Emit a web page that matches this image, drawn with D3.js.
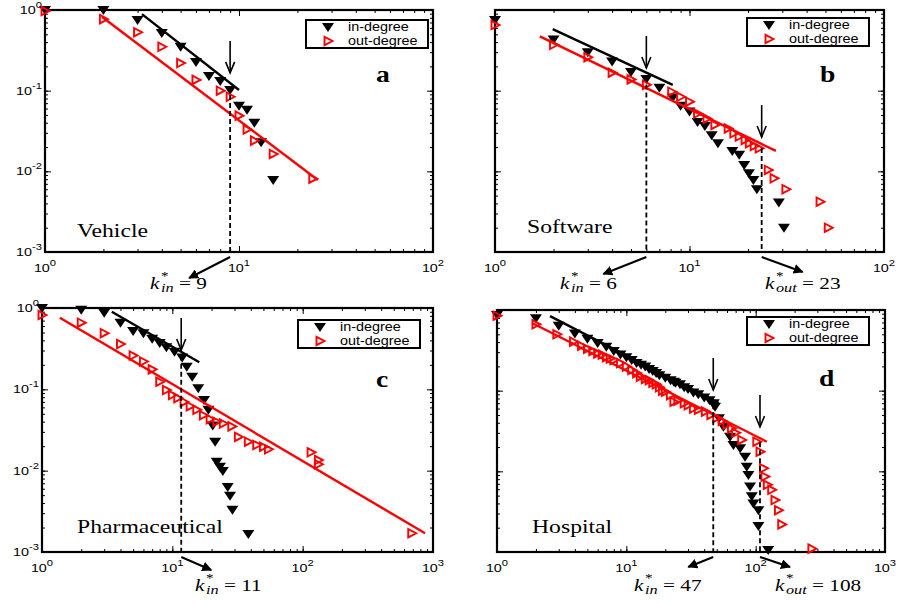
<!DOCTYPE html>
<html>
<head>
<meta charset="utf-8">
<script src="https://cdn.jsdelivr.net/npm/d3@7"></script>
<style>
  body { margin: 0; background: #fff; }
</style>
</head>
<body>
<svg id="chart" width="897" height="605"></svg>
<script>
// degree distributions: [k, P(k)]
const vehicleIn = [[1,1.0],[2,1.0],[3,0.75],[4,0.52],[5,0.35],[6,0.227],[7,0.152],[8,0.132],[9,0.102],[10,0.065],[11,0.058],[12,0.040],[13,0.023],[15,0.0078]];
const vehicleOut = [[1,0.97],[2,0.77],[3,0.53],[4,0.35],[5,0.22],[6,0.136],[8,0.1],[9,0.084],[10,0.049],[11,0.033],[12,0.024],[15,0.0164],[24,0.0081]];
const vehicleInFit = [[3.16,0.89],[10,0.102]];
const vehicleOutFit = [[1.97,0.82],[25.5,0.0078]];

const softwareIn = [[1,0.75],[2,0.43],[3,0.30],[4,0.23],[5,0.17],[6,0.14],[7,0.109],[8.2,0.082],[9,0.065],[10,0.055],[11,0.041],[12,0.0365],[13,0.028],[14,0.0223],[16.6,0.0179],[18,0.016],[19.1,0.012],[20.2,0.0095],[21.3,0.0078],[22.2,0.006],[28.8,0.0041],[30.6,0.002]];
const softwareOut = [[1,0.65],[2,0.37],[3,0.26],[4,0.167],[5,0.138],[6,0.118],[8.1,0.097],[9,0.084],[10,0.073],[11,0.052],[12.3,0.045],[13.5,0.0376],[15.8,0.034],[16.9,0.0296],[18,0.027],[19.3,0.0245],[20.3,0.0223],[21.5,0.0206],[22.8,0.0193],[25.4,0.0104],[27.2,0.0082],[31.3,0.006],[46.9,0.0042],[51.7,0.002]];
const softwareInFit = [[1.98,0.58],[8.2,0.118]];
const softwareOutFit = [[1.7,0.47],[27.8,0.0179]];

const pharmaIn = [[1,1],[2,0.95],[3,0.875],[4,0.66],[5,0.52],[6,0.49],[7,0.42],[8,0.37],[9,0.33],[10.4,0.29],[11.9,0.247],[12.9,0.19],[14.2,0.143],[15.8,0.103],[17.5,0.074],[18.9,0.056],[20.4,0.036],[21.3,0.0227],[21.9,0.0129],[23.2,0.0112],[24.4,0.0099],[26.6,0.0063],[27.7,0.0049],[28.9,0.0033],[38.3,0.00166]];
const pharmaOut = [[1,0.82],[2,0.66],[3,0.49],[4,0.36],[5,0.26],[6,0.22],[7,0.176],[8,0.124],[9,0.098],[10,0.085],[11,0.078],[12.3,0.07],[13.7,0.062],[15.4,0.056],[17.3,0.048],[19.5,0.043],[21.9,0.04],[24.6,0.038],[28.6,0.035],[32.1,0.026],[38.3,0.0227],[44.4,0.0207],[50,0.0197],[54.6,0.0183],[116,0.0168],[132,0.0135],[132,0.012],[687,0.0017]];
const pharmaInFit = [[3.43,0.9],[16.1,0.215]];
const pharmaOutFit = [[1.37,0.76],[869,0.0017]];

const hospitalIn = [[1,0.87],[2,0.79],[3,0.64],[4,0.51],[5,0.44],[6,0.39],[7,0.35],[8,0.31],[9,0.28],[10,0.26],[11,0.24],[12,0.22],[13,0.21],[14,0.2],[15,0.185],[16,0.175],[17,0.165],[18,0.155],[20,0.145],[22,0.135],[23.3,0.129],[24,0.125],[26,0.12],[28,0.11],[30,0.105],[33,0.095],[36,0.09],[40,0.082],[44,0.076],[47.4,0.07],[48.5,0.063],[52,0.0455],[56.3,0.0358],[63.4,0.0269],[67.3,0.0212],[75.8,0.0193],[82.8,0.0152],[85.3,0.0114],[87.9,0.009],[90.5,0.0065],[93.3,0.0049],[96,0.004],[105,0.0033],[105,0.0021],[125,0.00106]];
const hospitalOut = [[1,0.85],[2,0.665],[2.9,0.5],[3.9,0.405],[4.5,0.36],[5,0.33],[5.5,0.31],[6,0.29],[6.5,0.28],[7,0.26],[7.5,0.25],[8,0.24],[9,0.22],[10,0.2],[11,0.18],[12,0.165],[12.8,0.149],[14,0.14],[15,0.135],[16,0.125],[17,0.12],[18,0.11],[19,0.1],[20,0.097],[21.9,0.088],[23.3,0.073],[25,0.075],[28,0.07],[30,0.066],[33,0.06],[36,0.058],[40.8,0.055],[45,0.05],[50,0.046],[55,0.042],[60,0.038],[65,0.034],[70,0.03],[78,0.0245],[102,0.0233],[108,0.0175],[115,0.0109],[118,0.0086],[123,0.0068],[133,0.0059],[141,0.0044],[150,0.0033],[159,0.0022],[272,0.0011]];
const hospitalInFit = [[2.57,0.84],[51.8,0.07]];
const hospitalOutFit = [[1.9,0.68],[122,0.0233]];

// crossover points k*: position, label text, which degree, arrow tip P
const vehicleCuts = [{k:9, text:"9", sub:"in", tip:0.166}];
const softwareCuts = [{k:6, text:"6", sub:"in", tip:0.191}, {k:23.5, text:"23", sub:"out", tip:0.0266}];
const pharmaCuts = [{k:11.7, text:"11", sub:"in", tip:0.304}];
const hospitalCuts = [{k:47, text:"47", sub:"in", tip:0.102}, {k:108, text:"108", sub:"out", tip:0.0355}];

const legendLabels = ["in-degree", "out-degree"];

const SX = 1.25; // the figure's text is stretched sideways
const svg = d3.select("#chart");

const triDown = "M-6,-4L6,-4L0,5Z";
const triRight = "M-3.5,-4.2L4.5,0L-3.5,4.2Z";

const panels = [
  {box:[45,10,433,252], xMax:100, yLabels:true, name:"Vehicle", letter:"a",
   inPts:vehicleIn, outPts:vehicleOut, inFit:vehicleInFit, outFit:vehicleOutFit, cuts:vehicleCuts,
   legend:[306,20], nameXY:[77,237], letterXY:[376,82],
   kLabels:[[150,289]], arrows:[[-41,21]]},
  {box:[495,10,884,252], xMax:100, yLabels:false, name:"Software", letter:"b",
   inPts:softwareIn, outPts:softwareOut, inFit:softwareInFit, outFit:softwareOutFit, cuts:softwareCuts,
   legend:[747,18], nameXY:[527,233], letterXY:[820,82],
   kLabels:[[560,289],[765,289]], arrows:[[-43,17],[41,15]]},
  {box:[42,308,433,552], xMax:1000, yLabels:true, name:"Pharmaceutical", letter:"c",
   inPts:pharmaIn, outPts:pharmaOut, inFit:pharmaInFit, outFit:pharmaOutFit, cuts:pharmaCuts,
   legend:[298,320], nameXY:[77,533], letterXY:[376,387],
   kLabels:[[195,591]], arrows:[[30,13]]},
  {box:[497,310,885,552], xMax:1000, yLabels:false, name:"Hospital", letter:"d",
   inPts:hospitalIn, outPts:hospitalOut, inFit:hospitalInFit, outFit:hospitalOutFit, cuts:hospitalCuts,
   legend:[747,317], nameXY:[532,533], letterXY:[819,386],
   kLabels:[[634,591],[775,591]], arrows:[[-25,10],[30,10]]}
];

svg.append("defs").append("marker")
    .attr("id", "head")
    .attr("viewBox", "0 0 10 10")
    .attr("refX", 9).attr("refY", 5)
    .attr("markerWidth", 5).attr("markerHeight", 5)
    .attr("orient", "auto")
  .append("path")
    .attr("d", "M0,0L10,5L0,10Z")
    .attr("fill", "#000");

function powLabel(sel, d, size) {
  sel.append("tspan").text("10");
  sel.append("tspan")
      .attr("dy", -6)
      .attr("font-size", size - 2.5)
      .text(Math.round(Math.log10(d)));
}

function serifText(g, x, y, size, sx) {
  return g.append("text")
      .attr("transform", "translate(" + x + "," + y + ") scale(" + sx + ",1)")
      .attr("font-family", "Liberation Serif, Times New Roman, serif")
      .attr("font-size", size);
}

function drawPanel(p) {
  const [x0, y0, x1, y1] = p.box;
  const x = d3.scaleLog().domain([1, p.xMax]).range([x0, x1]);
  const y = d3.scaleLog().domain([1e-3, 1]).range([y1, y0]);
  const g = svg.append("g");

  const xMinor = x.ticks(), yMinor = y.ticks();
  const isPow = d => Math.abs(Math.log10(d) - Math.round(Math.log10(d))) < 1e-9;
  const xMajor = xMinor.filter(isPow);
  const yMajor = yMinor.filter(isPow);

  const axes = [
    [d3.axisBottom(x), "translate(0," + y1 + ")", xMinor, xMajor],
    [d3.axisTop(x), "translate(0," + y0 + ")", xMinor, xMajor],
    [d3.axisLeft(y), "translate(" + x0 + ",0)", yMinor, yMajor],
    [d3.axisRight(y), "translate(" + x1 + ",0)", yMinor, yMajor]
  ];
  axes.forEach(([ax, tr, minor, major]) => {
    g.append("g").attr("transform", tr)
      .call(ax.tickValues(minor).tickSize(-3).tickSizeOuter(0).tickFormat(""))
      .call(s => s.select(".domain").remove());
    g.append("g").attr("transform", tr)
      .call(ax.tickValues(major).tickSize(-6).tickSizeOuter(0).tickFormat(""))
      .call(s => s.select(".domain").remove());
  });

  g.append("rect")
      .attr("x", x0).attr("y", y0)
      .attr("width", x1 - x0).attr("height", y1 - y0)
      .attr("fill", "none").attr("stroke", "#000").attr("stroke-width", 2.2);

  // tick labels
  xMajor.forEach(d => {
    g.append("text")
        .attr("transform", "translate(" + x(d) + "," + (y1 + 20) + ") scale(" + SX + ",1)")
        .attr("text-anchor", "middle")
        .attr("font-family", "Liberation Sans, Arial, sans-serif")
        .attr("font-size", 11.5)
        .call(s => powLabel(s, d, 11.5));
  });
  if (p.yLabels) {
    yMajor.forEach(d => {
      g.append("text")
          .attr("transform", "translate(" + (x0 - 3) + "," + (y(d) + 4) + ") scale(" + SX + ",1)")
          .attr("text-anchor", "end")
          .attr("font-family", "Liberation Sans, Arial, sans-serif")
          .attr("font-size", 11.5)
          .call(s => powLabel(s, d, 11.5));
    });
  }

  // points
  g.append("g").selectAll("path")
    .data(p.inPts).enter().append("path")
      .attr("transform", d => "translate(" + x(d[0]) + "," + y(d[1]) + ")")
      .attr("d", triDown)
      .attr("fill", "#000");
  g.append("g").selectAll("path")
    .data(p.outPts).enter().append("path")
      .attr("transform", d => "translate(" + x(d[0]) + "," + y(d[1]) + ")")
      .attr("d", triRight)
      .attr("fill", "none")
      .attr("stroke", "#f00")
      .attr("stroke-width", 1.9);

  // fitted power laws
  const line = d3.line().x(d => x(d[0])).y(d => y(d[1]));
  g.append("path").attr("d", line(p.inFit))
      .attr("fill", "none").attr("stroke", "#000").attr("stroke-width", 2.4);
  g.append("path").attr("d", line(p.outFit))
      .attr("fill", "none").attr("stroke", "#f00").attr("stroke-width", 2.4);

  // crossover markers
  p.cuts.forEach((c, i) => {
    const fit = c.sub === "in" ? p.inFit : p.outFit;
    const lk0 = Math.log10(fit[0][0]), lk1 = Math.log10(fit[1][0]);
    const lp0 = Math.log10(fit[0][1]), lp1 = Math.log10(fit[1][1]);
    const pAt = Math.pow(10, lp0 + (Math.log10(c.k) - lk0) * (lp1 - lp0) / (lk1 - lk0));
    const cx = x(c.k);

    g.append("line")
        .attr("x1", cx).attr("x2", cx)
        .attr("y1", y(pAt) + 4).attr("y2", y1)
        .attr("stroke", "#000").attr("stroke-width", 1.8)
        .attr("stroke-dasharray", "5,3");

    // vertical arrow
    const ty = y(c.tip);
    g.append("line")
        .attr("x1", cx).attr("x2", cx)
        .attr("y1", ty - 32).attr("y2", ty)
        .attr("stroke", "#000").attr("stroke-width", 1.6);
    g.append("path")
        .attr("d", "M" + (cx - 4.5) + "," + (ty - 11) + "L" + cx + "," + ty + "L" + (cx + 4.5) + "," + (ty - 11))
        .attr("fill", "none").attr("stroke", "#000").attr("stroke-width", 1.6);

    // diagonal arrow below the axis
    const [dx, dy] = p.arrows[i];
    g.append("line")
        .attr("x1", cx).attr("y1", y1 + 5)
        .attr("x2", cx + dx).attr("y2", y1 + 5 + dy)
        .attr("stroke", "#000").attr("stroke-width", 2)
        .attr("marker-end", "url(#head)");

    // k*_in = n
    const [lx, ly] = p.kLabels[i];
    serifText(g, lx, ly, 17, SX).attr("font-style", "italic").text("k");
    serifText(g, lx + 11, ly - 9, 12, SX).text("*");
    serifText(g, lx + 11, ly + 3, 13, SX).attr("font-style", "italic").text(c.sub);
    serifText(g, lx + (c.sub === "in" ? 29 : 37), ly, 17, SX).text("= " + c.text);
  });

  // legend
  const [lgx, lgy] = p.legend;
  const lg = g.append("g").attr("transform", "translate(" + lgx + "," + lgy + ")");
  lg.append("rect").attr("width", 122).attr("height", 28)
      .attr("fill", "#fff").attr("stroke", "#000").attr("stroke-width", 2);
  lg.append("path").attr("transform", "translate(22,7)").attr("d", triDown).attr("fill", "#000");
  lg.append("path").attr("transform", "translate(22,21)").attr("d", triRight)
      .attr("fill", "none").attr("stroke", "#f00").attr("stroke-width", 1.9);
  legendLabels.forEach((s, i) => {
    lg.append("text")
        .attr("transform", "translate(42," + (11 + i * 14) + ") scale(1.15,1)")
        .attr("font-family", "Liberation Sans, Arial, sans-serif")
        .attr("font-size", 12.5)
        .text(s);
  });

  serifText(g, p.nameXY[0], p.nameXY[1], 18.5, 1.28).text(p.name);
  serifText(g, p.letterXY[0], p.letterXY[1], 24, 1.15)
      .attr("font-weight", "bold")
      .text(p.letter);
}

panels.forEach(drawPanel);
</script>
</body>
</html>
